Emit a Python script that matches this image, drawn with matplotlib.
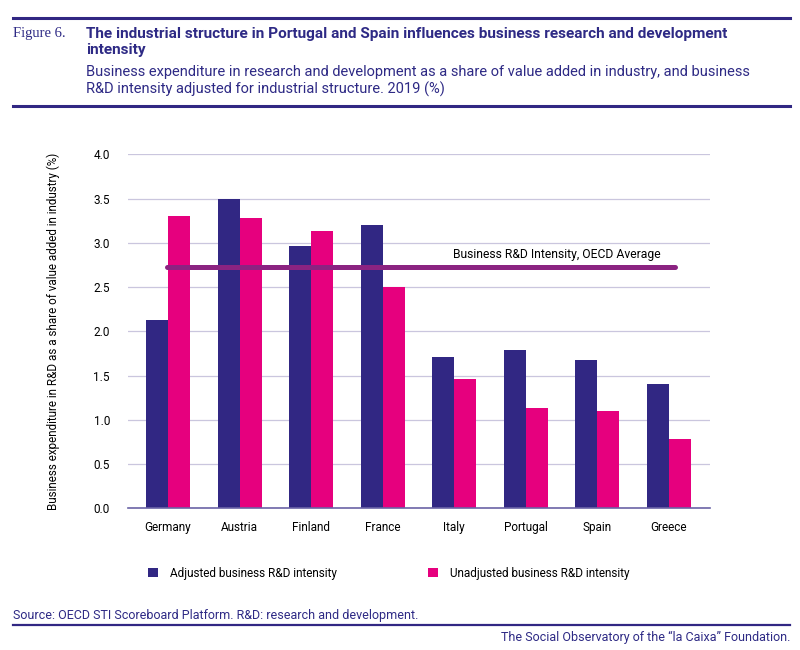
import numpy as np
import matplotlib
matplotlib.use("Agg")
import matplotlib.pyplot as plt
from matplotlib.patches import Patch

countries = ["Germany", "Austria", "Finland", "France", "Italy", "Portugal", "Spain", "Greece"]
adjusted = [2.13, 3.50, 2.96, 3.20, 1.71, 1.79, 1.68, 1.41]
unadjusted = [3.30, 3.28, 3.13, 2.50, 1.46, 1.13, 1.10, 0.79]
oecd_average = 2.73
y_ticks = [0.0, 0.5, 1.0, 1.5, 2.0, 2.5, 3.0, 3.5, 4.0]

NAVY = "#312783"
PINK = "#E6007E"
PURPLE = "#8B2381"
TEXT = "#2E2A85"
GRID = "#CAC6DE"

plt.rcParams["font.family"] = ["Roboto", "DejaVu Sans"]

fig = plt.figure(figsize=(8, 6.5), dpi=100)
ax = fig.add_axes([0.16, 0.2177, 0.7275, 0.5449])

x = np.arange(len(countries))
w = 0.307
ax.bar(x - w / 2, adjusted, width=w, color=NAVY, zorder=3)
ax.bar(x + w / 2, unadjusted, width=w, color=PINK, zorder=3)

# OECD average line with its label
ax.hlines(oecd_average, -0.02, 7.08, color=PURPLE, linewidth=3.6, capstyle="round", zorder=4)
ax.text(5.43, oecd_average + 0.07, "Business R&D Intensity, OECD Average",
        ha="center", va="bottom", fontsize=8.7, color="black")

ax.set_xlim(-0.559, 7.573)
ax.set_ylim(0, 4.0)
ax.set_yticks(y_ticks)
ax.set_yticklabels([f"{v:.1f}" for v in y_ticks], fontsize=8.5)
ax.set_xticks(x)
ax.set_xticklabels(countries, fontsize=8.5)
ax.tick_params(axis="y", length=0, pad=13)
ax.tick_params(axis="x", length=0, pad=9)
ax.grid(axis="y", color=GRID, linewidth=0.9, zorder=0)
for s in ["top", "right", "left"]:
    ax.spines[s].set_visible(False)
ax.spines["bottom"].set_color("#6B64A6")
ax.spines["bottom"].set_linewidth(1.2)
ax.spines["bottom"].set_zorder(5)
ax.set_ylabel("Business expenditure in R&D as a share of value added in industry (%)",
              fontsize=8.4, labelpad=24)

# legend
handles = [Patch(facecolor=NAVY, label="Adjusted business R&D intensity"),
           Patch(facecolor=PINK, label="Unadjusted business R&D intensity")]
fig.legend(handles=handles, loc="center left", bbox_to_anchor=(0.172, 1 - 573 / 650),
           ncol=2, frameon=False, fontsize=8.5, handlelength=0.85, handleheight=0.85,
           columnspacing=7.7, handletextpad=1.0)

# header
fig.add_artist(plt.Line2D([13 / 800, 790 / 800], [1 - 17.5 / 650] * 2, color=NAVY, linewidth=2.2))
fig.add_artist(plt.Line2D([13 / 800, 790 / 800], [1 - 106 / 650] * 2, color=NAVY, linewidth=2.2))
fig.text(13 / 800, 1 - 34 / 650, "Figure 6.", family=["Liberation Serif", "DejaVu Serif"],
         fontsize=10.5, color=TEXT, va="center")
fig.text(86 / 800, 1 - 34 / 650,
         "The industrial structure in Portugal and Spain influences business research and development",
         fontsize=11.1, fontweight="bold", color=TEXT, va="center")
fig.text(86 / 800, 1 - 50 / 650, "intensity", fontsize=11.1, fontweight="bold", color=TEXT, va="center")
fig.text(86 / 800, 1 - 72 / 650,
         "Business expenditure in research and development as a share of value added in industry, and business",
         fontsize=10.5, color=TEXT, va="center")
fig.text(86 / 800, 1 - 89 / 650,
         "R&D intensity adjusted for industrial structure. 2019 (%)",
         fontsize=10.5, color=TEXT, va="center")

# footer
fig.text(13 / 800, 1 - 615 / 650, "Source: OECD STI Scoreboard Platform. R&D: research and development.",
         fontsize=9, color=TEXT, va="center")
fig.add_artist(plt.Line2D([13 / 800, 790 / 800], [1 - 625 / 650] * 2, color=NAVY, linewidth=1.6))
fig.text(790 / 800, 1 - 637 / 650, "The Social Observatory of the \u201cla Caixa\u201d Foundation.",
         fontsize=9, color=TEXT, va="center", ha="right")

fig.savefig("out.png", dpi=100)
